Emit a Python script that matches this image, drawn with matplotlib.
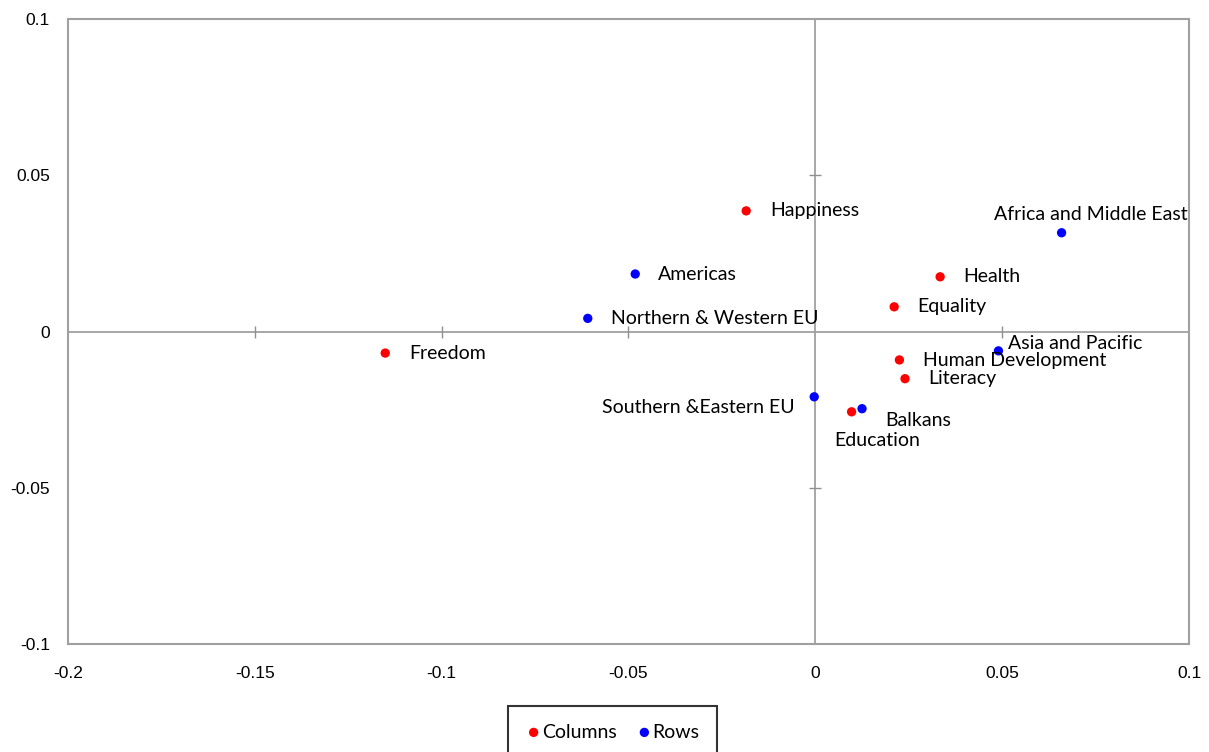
import matplotlib
matplotlib.use("Agg")
import matplotlib.pyplot as plt

col_labels = ["Happiness", "Health", "Equality", "Freedom", "Human Development", "Literacy", "Education"]
col_x = [-0.0185, 0.0334, 0.0211, -0.1151, 0.0225, 0.0240, 0.0097]
col_y = [0.0386, 0.0175, 0.0079, -0.0069, -0.0091, -0.0151, -0.0257]

row_labels = ["Africa and Middle East", "Americas", "Northern & Western EU", "Asia and Pacific",
              "Southern &Eastern EU", "Balkans"]
row_x = [0.0659, -0.0482, -0.0609, 0.0490, -0.0003, 0.0125]
row_y = [0.0316, 0.0184, 0.0042, -0.0062, -0.0209, -0.0247]

x_ticks = [-0.2, -0.15, -0.1, -0.05, 0, 0.05, 0.1]
x_tick_labels = ["-0.2", "-0.15", "-0.1", "-0.05", "0", "0.05", "0.1"]
y_ticks = [-0.1, -0.05, 0, 0.05, 0.1]
y_tick_labels = ["-0.1", "-0.05", "0", "0.05", "0.1"]

# label offsets in pixels (dx, dy, ha)
col_offsets = {
    "Happiness": (24, 0, "left"), "Health": (23, 0, "left"), "Equality": (23, 0, "left"),
    "Freedom": (24, 0, "left"), "Human Development": (24, -1, "left"),
    "Literacy": (23, 0, "left"), "Education": (-17, -29, "left"),
}
row_offsets = {
    "Africa and Middle East": (-68, 18, "left"), "Americas": (23, 0, "left"),
    "Northern & Western EU": (23, 0, "left"), "Asia and Pacific": (10, 7, "left"),
    "Southern &Eastern EU": (-20, -11, "right"), "Balkans": (23, -12, "left"),
}

fig = plt.figure(figsize=(12.09, 7.52), dpi=100)
ax = fig.add_axes([68/1209, (752-644)/752, 1121/1209, 625/752])
ax.set_xlim(-0.2, 0.1)
ax.set_ylim(-0.1, 0.1)

grey = "#a0a0a0"
for s in ax.spines.values():
    s.set_color(grey)
    s.set_linewidth(1.5)
ax.axhline(0, color=grey, lw=1.3, zorder=1)
ax.axvline(0, color=grey, lw=1.3, zorder=1)
# tick marks on zero lines
inner_x = [t for t in x_ticks if t not in (0, x_ticks[0], x_ticks[-1])]
inner_y = [t for t in y_ticks if t not in (0, y_ticks[0], y_ticks[-1])]
ax.plot(inner_x, [0]*len(inner_x), linestyle="none", marker="|", ms=8.5, mew=1.0, color="#909090", zorder=1)
ax.plot([0]*len(inner_y), inner_y, linestyle="none", marker="_", ms=8.5, mew=1.0, color="#909090", zorder=1)

ax.set_xticks(x_ticks)
ax.set_xticklabels(x_tick_labels)
ax.set_yticks(y_ticks)
ax.set_yticklabels(y_tick_labels)
ax.tick_params(length=0, labelsize=12.5, colors="black")
ax.tick_params(axis="y", pad=13)
ax.tick_params(axis="x", pad=16)
for lab in ax.get_xticklabels() + ax.get_yticklabels():
    lab.set_fontfamily("Liberation Sans")

lab_font = "Lato"
lab_size = 14
ax.scatter(col_x, col_y, s=45, color="#ff0000", zorder=3, label="Columns", edgecolors="none")
ax.scatter(row_x, row_y, s=45, color="#0000ff", zorder=3, label="Rows", edgecolors="none")

for name, x, y in zip(col_labels, col_x, col_y):
    dx, dy, ha = col_offsets[name]
    ax.annotate(name, (x, y), xytext=(dx, dy), textcoords="offset pixels", ha=ha, va="center",
                fontsize=lab_size, family=lab_font, zorder=4)
for name, x, y in zip(row_labels, row_x, row_y):
    dx, dy, ha = row_offsets[name]
    ax.annotate(name, (x, y), xytext=(dx, dy), textcoords="offset pixels", ha=ha, va="center",
                fontsize=lab_size, family=lab_font, zorder=4)

leg = fig.legend(loc="upper center", bbox_to_anchor=(612.5/1209, (752-706)/752), ncol=2,
                 frameon=True, fancybox=False, prop={"family": lab_font, "size": lab_size},
                 handletextpad=0.0, columnspacing=1.0, borderpad=0.9, borderaxespad=0,
                 handlelength=0.85, markerscale=1.0)
leg.get_frame().set_edgecolor("black")
leg.get_frame().set_linewidth(1.5)

fig.savefig("out.png", dpi=100)
